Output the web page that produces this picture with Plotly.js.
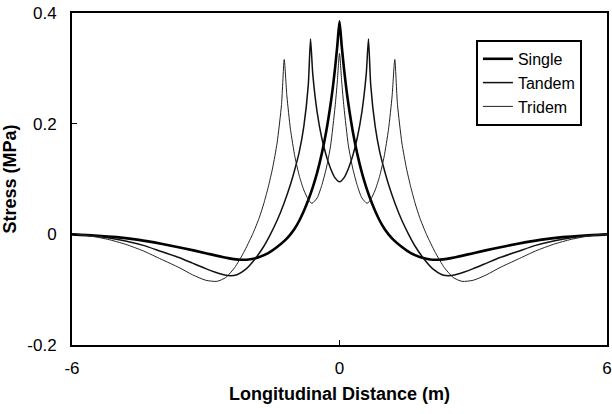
<!DOCTYPE html>
<html>
<head>
<meta charset="utf-8">
<script src="https://cdn.plot.ly/plotly-3.0.1.min.js"></script>
<style>html,body{margin:0;padding:0;background:#fff;}#chart{width:612px;height:414px;}</style>
</head>
<body>
<div id="chart"></div>
<script>
// Single axle
var singleX = [-6, -5.5, -5, -4.5, -4, -3.5, -3, -2.5, -2.2, -2, -1.8, -1.6, -1.4, -1.2, -1.1, -1, -0.9, -0.8, -0.7, -0.6, -0.5, -0.4, -0.3, -0.2, -0.15, -0.1, -0.05, 0,
               0.05, 0.1, 0.15, 0.2, 0.3, 0.4, 0.5, 0.6, 0.7, 0.8, 0.9, 1, 1.1, 1.2, 1.4, 1.6, 1.8, 2, 2.2, 2.5, 3, 3.5, 4, 4.5, 5, 5.5, 6];
var singleY = [0, -0.002, -0.005, -0.010, -0.017, -0.025, -0.034, -0.043, -0.046, -0.045, -0.041, -0.034, -0.023, -0.009, 0, 0.011, 0.025, 0.042, 0.062, 0.085, 0.112, 0.145, 0.185, 0.235, 0.265, 0.300, 0.340, 0.385,
               0.340, 0.300, 0.265, 0.235, 0.185, 0.145, 0.112, 0.085, 0.062, 0.042, 0.025, 0.011, 0, -0.009, -0.023, -0.034, -0.041, -0.045, -0.046, -0.043, -0.034, -0.025, -0.017, -0.010, -0.005, -0.002, 0];

// Tandem axle
var tandemX = [-6, -5.6, -5.2, -4.8, -4.4, -4, -3.6, -3.3, -3, -2.8, -2.6, -2.45, -2.3, -2.1, -1.9, -1.7, -1.55, -1.4, -1.25, -1.1, -1, -0.9, -0.8, -0.7, -0.65, -0.6, -0.5, -0.4, -0.3, -0.2, -0.1, 0,
               0.1, 0.2, 0.3, 0.4, 0.5, 0.6, 0.65, 0.7, 0.8, 0.9, 1, 1.1, 1.25, 1.4, 1.55, 1.7, 1.9, 2.1, 2.3, 2.45, 2.6, 2.8, 3, 3.3, 3.6, 4, 4.4, 4.8, 5.2, 5.6, 6];
var tandemY = [0, -0.002, -0.006, -0.012, -0.020, -0.031, -0.042, -0.052, -0.062, -0.068, -0.073, -0.075, -0.073, -0.063, -0.045, -0.022, 0, 0.025, 0.055, 0.090, 0.118, 0.150, 0.195, 0.270, 0.353, 0.290, 0.220, 0.175, 0.143, 0.119, 0.102, 0.095,
               0.102, 0.119, 0.143, 0.175, 0.220, 0.290, 0.353, 0.270, 0.195, 0.150, 0.118, 0.090, 0.055, 0.025, 0, -0.022, -0.045, -0.063, -0.073, -0.075, -0.073, -0.068, -0.062, -0.052, -0.042, -0.031, -0.020, -0.012, -0.006, -0.002, 0];

// Tridem axle
var tridemX = [-6, -5.6, -5.2, -4.8, -4.4, -4, -3.6, -3.3, -3, -2.75, -2.55, -2.35, -2.15, -1.95, -1.8, -1.7, -1.6, -1.5, -1.4, -1.3, -1.24, -1.18, -1.1, -1, -0.9, -0.8, -0.7, -0.62, -0.5, -0.4, -0.3, -0.2, -0.1, -0.05, 0,
               0.05, 0.1, 0.2, 0.3, 0.4, 0.5, 0.62, 0.7, 0.8, 0.9, 1, 1.1, 1.18, 1.24, 1.3, 1.4, 1.5, 1.6, 1.7, 1.8, 1.95, 2.15, 2.35, 2.55, 2.75, 3, 3.3, 3.6, 4, 4.4, 4.8, 5.2, 5.6, 6];
var tridemY = [0, -0.003, -0.009, -0.018, -0.030, -0.045, -0.060, -0.073, -0.083, -0.085, -0.078, -0.060, -0.033, 0, 0.030, 0.055, 0.085, 0.120, 0.165, 0.235, 0.316, 0.250, 0.190, 0.140, 0.105, 0.080, 0.063, 0.056, 0.066, 0.088, 0.118, 0.160, 0.230, 0.275, 0.327,
               0.275, 0.230, 0.160, 0.118, 0.088, 0.066, 0.056, 0.063, 0.080, 0.105, 0.140, 0.190, 0.250, 0.316, 0.235, 0.165, 0.120, 0.085, 0.055, 0.030, 0, -0.033, -0.060, -0.078, -0.085, -0.083, -0.073, -0.060, -0.045, -0.030, -0.018, -0.009, -0.003, 0];

var xTickVals = [-6, 0, 6];
var xTickText = ['-6', '0', '6'];
var yTickVals = [-0.2, 0, 0.2, 0.4];
var yTickText = ['-0.2', '0', '0.2', '0.4'];

var FONT = 'Arial, "Liberation Sans", Helvetica, sans-serif';

var traces = [
  {x: singleX, y: singleY, name: 'Single', mode: 'lines', line: {color: '#000', width: 2.6, shape: 'spline', smoothing: 0.6}},
  {x: tandemX, y: tandemY, name: 'Tandem', mode: 'lines', line: {color: '#111', width: 1.5, shape: 'spline', smoothing: 0.6}},
  {x: tridemX, y: tridemY, name: 'Tridem', mode: 'lines', line: {color: '#222', width: 1.0, shape: 'spline', smoothing: 0.6}}
];

var layout = {
  width: 612, height: 414,
  margin: {l: 72, r: 5, t: 13, b: 69},
  paper_bgcolor: '#fff', plot_bgcolor: '#fff',
  font: {family: FONT, size: 17, color: '#000'},
  showlegend: true,
  legend: {
    x: 0.755, y: 0.919, xanchor: 'left', yanchor: 'top',
    bordercolor: '#000', borderwidth: 2, bgcolor: '#fff',
    font: {family: FONT, size: 16, color: '#000'},
    itemwidth: 30, tracegroupgap: 0
  },
  xaxis: {
    range: [-6, 6], tickmode: 'array', tickvals: xTickVals, ticktext: xTickText,
    ticks: 'inside', ticklen: 5, tickwidth: 1.5, tickcolor: '#000',
    showline: true, linecolor: '#000', linewidth: 2, mirror: true,
    showgrid: false, zeroline: false,
    tickfont: {family: FONT, size: 17, color: '#000'},
    ticklabelstandoff: 7,
    title: {text: 'Longitudinal Distance (m)', font: {family: FONT, size: 18, color: '#000', weight: 'bold'}, standoff: 10}
  },
  yaxis: {
    range: [-0.2, 0.4], tickmode: 'array', tickvals: yTickVals, ticktext: yTickText,
    ticks: 'inside', ticklen: 5, tickwidth: 1.5, tickcolor: '#000',
    showline: true, linecolor: '#000', linewidth: 2, mirror: true,
    showgrid: false, zeroline: false,
    tickfont: {family: FONT, size: 17, color: '#000'},
    ticklabelstandoff: 10,
    title: {text: 'Stress (MPa)', font: {family: FONT, size: 18, color: '#000', weight: 'bold'}, standoff: 10}
  }
};

Plotly.newPlot('chart', traces, layout, {displayModeBar: false, staticPlot: true});
</script>
</body>
</html>
